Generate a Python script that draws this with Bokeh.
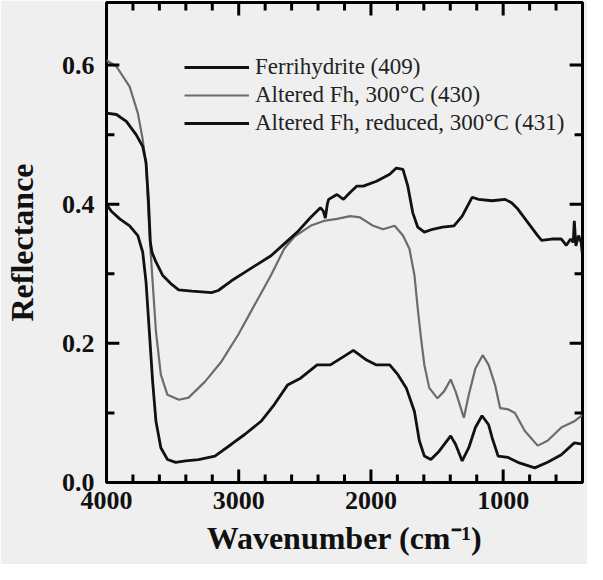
from bokeh.plotting import figure
from bokeh.models import Range1d, FixedTicker, PrintfTickFormatter, Legend, LegendItem
from bokeh.embed import file_html
from bokeh.resources import INLINE

# ---- data ----
wn_fh = [4000, 3925, 3850, 3776, 3726, 3701, 3683, 3668, 3656, 3626, 3576, 3514, 3454, 3354,
         3205, 3155, 3055, 2955, 2856, 2756, 2656, 2557, 2457, 2382, 2360, 2345, 2330, 2320,
         2257, 2208, 2158, 2108, 2058, 1958, 1858, 1808, 1758, 1721, 1684, 1646, 1596, 1534,
         1459, 1372, 1310, 1235, 1185, 1085, 985, 936, 889, 814, 739, 709, 634, 560, 522, 490,
         470, 462, 450, 430, 410, 402]
r_fh = [0.531, 0.529, 0.519, 0.500, 0.483, 0.460, 0.407, 0.345, 0.331, 0.317, 0.298, 0.286,
        0.277, 0.275, 0.273, 0.276, 0.290, 0.302, 0.314, 0.326, 0.343, 0.360, 0.381, 0.395,
        0.390, 0.380, 0.400, 0.407, 0.414, 0.407, 0.417, 0.426, 0.426, 0.433, 0.443, 0.452,
        0.450, 0.426, 0.388, 0.367, 0.360, 0.364, 0.367, 0.369, 0.383, 0.410, 0.407, 0.405,
        0.407, 0.402, 0.393, 0.374, 0.355, 0.348, 0.350, 0.350, 0.341, 0.350, 0.345, 0.376,
        0.340, 0.355, 0.345, 0.330]

wn_alt = [4000, 3925, 3825, 3763, 3726, 3700, 3676, 3651, 3626, 3589, 3539, 3452, 3379, 3255,
          3130, 3005, 2881, 2756, 2656, 2581, 2457, 2357, 2257, 2157, 2082, 1983, 1908, 1821,
          1758, 1709, 1671, 1646, 1621, 1596, 1559, 1497, 1447, 1397, 1360, 1297, 1260, 1210,
          1155, 1110, 1061, 1023, 960, 911, 836, 739, 664, 560, 462, 402]
r_alt = [0.607, 0.598, 0.569, 0.531, 0.493, 0.455, 0.360, 0.288, 0.217, 0.155, 0.126, 0.119,
         0.122, 0.145, 0.174, 0.212, 0.255, 0.298, 0.336, 0.353, 0.369, 0.376, 0.379, 0.383,
         0.381, 0.369, 0.364, 0.369, 0.355, 0.336, 0.298, 0.250, 0.207, 0.169, 0.136, 0.121,
         0.131, 0.148, 0.131, 0.093, 0.126, 0.164, 0.183, 0.169, 0.140, 0.107, 0.105, 0.100,
         0.074, 0.053, 0.060, 0.079, 0.088, 0.097]

wn_red = [4000, 3963, 3900, 3825, 3763, 3726, 3701, 3676, 3651, 3626, 3589, 3539, 3477, 3402,
          3304, 3180, 3055, 2955, 2831, 2731, 2631, 2532, 2407, 2307, 2207, 2133, 2033, 1958,
          1858, 1796, 1733, 1671, 1634, 1596, 1547, 1484, 1397, 1360, 1310, 1260, 1210, 1160,
          1110, 1083, 1038, 963, 889, 761, 664, 560, 462, 402]
r_red = [0.400, 0.390, 0.379, 0.369, 0.355, 0.331, 0.288, 0.217, 0.145, 0.088, 0.050, 0.033,
         0.029, 0.031, 0.033, 0.038, 0.055, 0.069, 0.088, 0.112, 0.140, 0.150, 0.169, 0.169,
         0.181, 0.190, 0.176, 0.169, 0.169, 0.155, 0.136, 0.102, 0.060, 0.038, 0.033, 0.045,
         0.067, 0.055, 0.031, 0.050, 0.079, 0.096, 0.083, 0.064, 0.038, 0.036, 0.029, 0.021,
         0.029, 0.040, 0.057, 0.055]

series_names = ["Ferrihydrite (409)", "Altered Fh, 300\u00b0C (430)", "Altered Fh, reduced, 300\u00b0C (431)"]
x_major = [4000, 3000, 2000, 1000]
x_minor = [400, 600, 800, 1200, 1400, 1600, 1800, 2200, 2400, 2600, 2800, 3200, 3400, 3600, 3800]
y_major = [0.0, 0.2, 0.4, 0.6]
y_minor = [0.1, 0.3, 0.5]
x_lim = (4000, 400)
y_lim = (0.0, 0.69)

BG = "#efefef"
INK = "#000000"
SERIF = "Liberation Serif"

W, H = 587, 564
BL, BR, BT, BB = 100, 5, 2, 82

p = figure(width=W, height=H, output_backend="svg", toolbar_location=None,
           x_range=Range1d(*x_lim), y_range=Range1d(*y_lim),
           min_border_left=BL, min_border_right=BR, min_border_top=BT, min_border_bottom=BB,
           background_fill_color=BG, border_fill_color=BG)
p.outline_line_color = INK
p.outline_line_width = 3
p.grid.visible = False

# ---- spectra ----
r2 = p.line(wn_alt, r_alt, line_color="#6c6c6c", line_width=2.2)
r1 = p.line(wn_fh, r_fh, line_color="#111111", line_width=2.8)
r3 = p.line(wn_red, r_red, line_color="#111111", line_width=2.8)

# ---- inward tick marks on all four sides (pixel lengths converted to data units) ----
frame_w = W - BL - BR
frame_h = H - BT - BB
px_x = abs(x_lim[0] - x_lim[1]) / frame_w
px_y = (y_lim[1] - y_lim[0]) / frame_h
MAJ, MIN = 13, 8

def vticks(xs, length, width):
    n = len(xs)
    p.segment(x0=xs, y0=[y_lim[0]] * n, x1=xs, y1=[y_lim[0] + length * px_y] * n,
              line_color=INK, line_width=width)
    p.segment(x0=xs, y0=[y_lim[1]] * n, x1=xs, y1=[y_lim[1] - length * px_y] * n,
              line_color=INK, line_width=width)

def hticks(ys, length, width):
    n = len(ys)
    p.segment(x0=[x_lim[0]] * n, y0=ys, x1=[x_lim[0] - length * px_x] * n, y1=ys,
              line_color=INK, line_width=width)
    p.segment(x0=[x_lim[1]] * n, y0=ys, x1=[x_lim[1] + length * px_x] * n, y1=ys,
              line_color=INK, line_width=width)

vticks(x_major, MAJ, 3)
vticks(x_minor, MIN, 3)
hticks(y_major, MAJ, 3)
hticks(y_minor, MIN, 3)

def style_axis(ax):
    ax.axis_line_color = None
    ax.major_tick_line_color = None
    ax.minor_tick_line_color = None
    ax.major_tick_out = 0
    ax.minor_tick_out = 0
    ax.major_label_text_font = SERIF
    ax.major_label_text_font_style = "bold"
    ax.major_label_text_font_size = "26px"
    ax.major_label_text_color = "#111111"
    ax.axis_label_text_font = SERIF
    ax.axis_label_text_font_style = "bold"
    ax.axis_label_text_font_size = "32px"
    ax.axis_label_text_color = "#111111"

xb = p.xaxis[0]
xb.ticker = FixedTicker(ticks=x_major, minor_ticks=x_minor)
xb.axis_label = "Wavenumber (cm\u207b\u00b9)"
style_axis(xb)
xb.major_label_standoff = 9
xb.axis_label_standoff = 8

yl = p.yaxis[0]
yl.ticker = FixedTicker(ticks=y_major, minor_ticks=y_minor)
yl.formatter = PrintfTickFormatter(format="%.1f")
yl.axis_label = "Reflectance"
style_axis(yl)
yl.major_label_standoff = 12
yl.axis_label_standoff = 19

legend = Legend(items=[LegendItem(label=series_names[0], renderers=[r1]),
                       LegendItem(label=series_names[1], renderers=[r2]),
                       LegendItem(label=series_names[2], renderers=[r3])],
                location=(78, 345), orientation="vertical")
legend.background_fill_alpha = 0
legend.border_line_color = None
legend.padding = 0
legend.margin = 0
legend.spacing = 0
legend.glyph_width = 65
legend.glyph_height = 28
legend.label_height = 28
legend.label_standoff = 6
legend.label_text_font = SERIF
legend.label_text_font_size = "23px"
legend.label_text_color = "#222222"
p.add_layout(legend, "center")

open("out.html", "w").write(file_html(p, INLINE))
